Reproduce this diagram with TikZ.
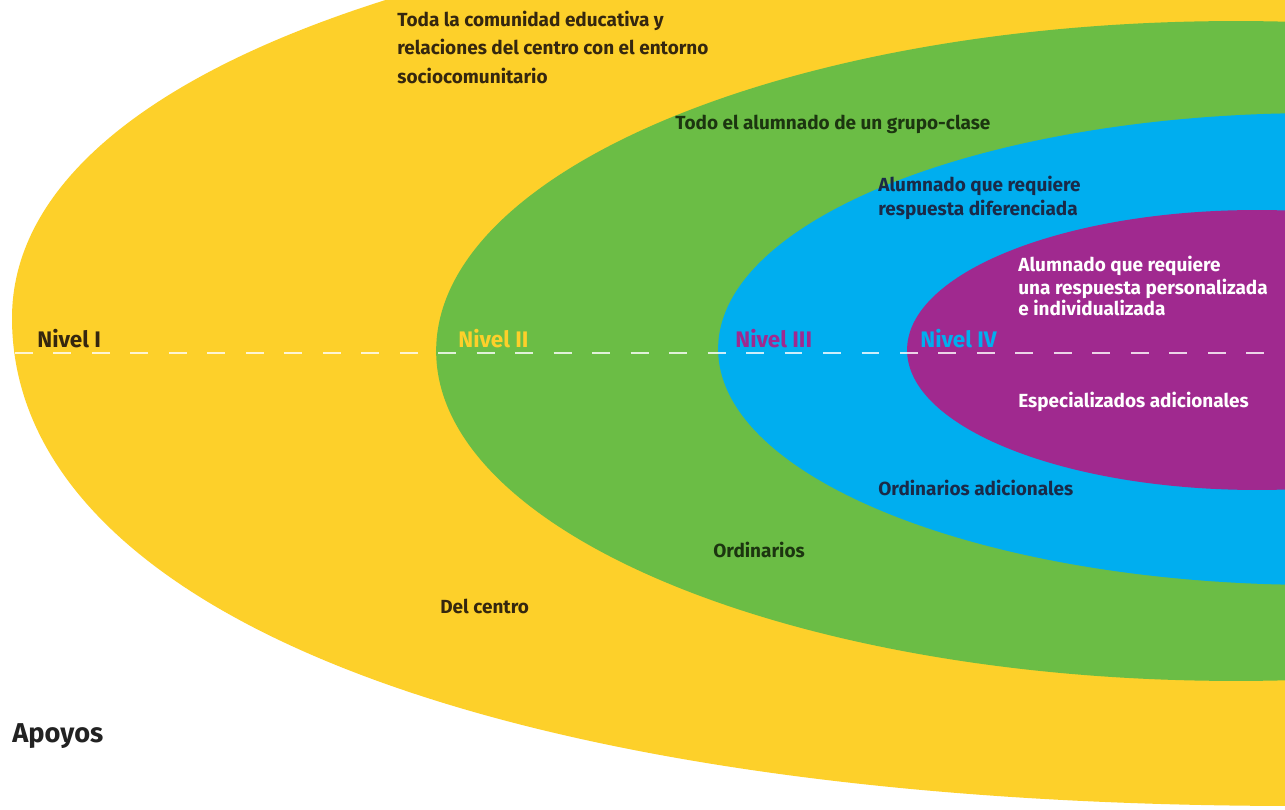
\documentclass[tikz,border=0pt]{standalone}
\usepackage{fontspec}
\setmainfont{Fira Sans}
\definecolor{yel}{HTML}{FDD02A}
\definecolor{grn}{HTML}{6BBD45}
\definecolor{blu}{HTML}{00AEEF}
\definecolor{pur}{HTML}{A0298F}
\definecolor{txbrown}{HTML}{35270F}
\definecolor{txgreen}{HTML}{1C3510}
\definecolor{txnavy}{HTML}{1A2A48}
\definecolor{txgray}{HTML}{222222}
\begin{document}
\begin{tikzpicture}[x=0.02cm,y=-0.02cm,
  txt/.style={font=\bfseries\fontsize{10.8}{13}\selectfont, anchor=base west, inner sep=0pt},
  lvl/.style={font=\bfseries\fontsize{12.8}{15}\selectfont, anchor=base west, inner sep=0pt},
  axis/.style={white, opacity=0.8, line width=1.15pt, dash pattern=on 10.2pt off 11.7pt}]
\useasboundingbox (0,0) rectangle (1285,810);
\fill[white] (0,0) rectangle (1285,810);
\begin{scope}
\clip (0,0) rectangle (1285,810);
\fill[yel] (1300,-110) .. controls (490,-110) and (12,70) .. (12,318)
  .. controls (12,610) and (490,806) .. (1300,806) -- cycle;
\fill[grn] (1236,351) ellipse [x radius=16cm, y radius=6.6cm];
\fill[blu] (1318,349) ellipse [x radius=12cm, y radius=4.72cm];
\fill[pur] (1257,350) ellipse [x radius=7cm, y radius=2.8cm];
\end{scope}
\coordinate (dl) at (15,353);
\coordinate (dr) at (1285,353);
\draw[axis] (dl) -- (dr);
\node[lvl, text=txbrown] (n1) at (37,348) {Nivel I};
\node[lvl, text=yel] (n2) at (458,348) {Nivel II};
\node[lvl, text=pur] (n3) at (735,348) {Nivel III};
\node[lvl, text=blu] (n4) at (920,348) {Nivel IV};
\node[txt, text=txbrown] (t1a) at (397,27) {Toda la comunidad educativa y};
\node[txt, text=txbrown] (t1b) at (397,55) {relaciones del centro con el entorno};
\node[txt, text=txbrown] (t1c) at (397,84) {sociocomunitario};
\node[txt, text=txgreen] (t2) at (675,130) {Todo el alumnado de un grupo-clase};
\node[txt, text=txnavy] (t3a) at (878,192) {Alumnado que requiere};
\node[txt, text=txnavy] (t3b) at (878,216) {respuesta diferenciada};
\node[txt, text=white] (t4a) at (1018,272) {Alumnado que requiere};
\node[txt, text=white] (t4b) at (1018,295) {una respuesta personalizada};
\node[txt, text=white] (t4c) at (1018,316) {e individualizada};
\node[txt, text=white] (s4) at (1018,408) {Especializados adicionales};
\node[txt, text=txnavy] (s3) at (878,496) {Ordinarios adicionales};
\node[txt, text=txgreen] (s2) at (713,558) {Ordinarios};
\node[txt, text=txbrown] (s1) at (440,614) {Del centro};
\node[font=\bfseries\fontsize{15.5}{18}\selectfont, text=txgray, anchor=base west, inner sep=0pt] (ap) at (12,742) {Apoyos};
\end{tikzpicture}
\end{document}
